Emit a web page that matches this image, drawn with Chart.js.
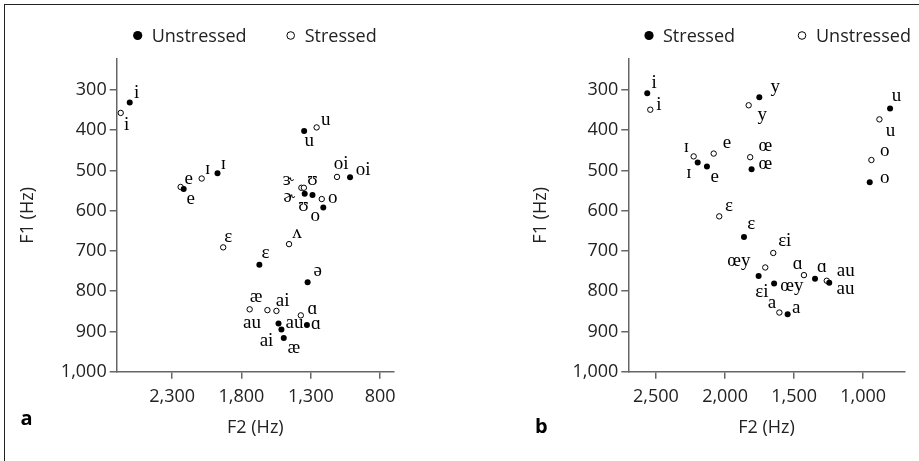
<!DOCTYPE html>
<html><head><meta charset="utf-8">
<script src="https://cdn.jsdelivr.net/npm/chart.js@4.4.1/dist/chart.umd.min.js"></script>
<style>
html,body{margin:0;padding:0;background:#fff;}
#wrap{position:relative;width:919px;height:461px;overflow:hidden;background:#fff;}
#frame{position:absolute;left:4px;top:4px;width:920px;height:470px;border-top:1.6px solid #222;border-left:1.6px solid #222;}
canvas{position:absolute;top:0;}
#ca{left:0;}
#cb{left:459px;}
</style></head>
<body>
<div id="wrap"><div id="frame"></div>
<canvas id="ca" width="459" height="461"></canvas>
<canvas id="cb" width="460" height="461"></canvas>
</div>
<script>
// ---------- Panel a data ----------
const aUnstressedVowels = ['i','e','ɪ','u','oi','ɚ','ʊ','o','ɛ','ə','ai','au','æ','ɑ'];
const aUnstressedF2 = [2606,2217,1973,1348,1017,1344,1288,1210,1671,1323,1533,1512,1495,1328];
const aUnstressedF1 = [331,546,507,402,517,558,561,592,734,778,880,895,916,884];
const aStressedVowels = ['i','e','ɪ','u','oi','ɝ','ʊ','o','ɛ','ʌ','æ','au','ai','ɑ'];
const aStressedF2 = [2671,2239,2087,1258,1111,1368,1350,1221,1932,1457,1741,1613,1548,1372];
const aStressedF1 = [357,541,520,393,516,543,543,571,691,683,845,847,849,860];
const aXTicks = [2300,1800,1300,800];

// ---------- Panel b data ----------
const bStressedVowels = ['i','y','u','o','ɪ','e','œ','ɛ','ɛi','œy','ɑ','au','a'];
const bStressedF2 = [2563,1752,806,953,2198,2131,1808,1863,1757,1645,1349,1246,1547];
const bStressedF1 = [308,318,346,529,480,490,497,665,762,781,769,779,857];
const bUnstressedVowels = ['i','y','u','o','ɪ','e','œ','ɛ','ɛi','œy','ɑ','au','a'];
const bUnstressedF2 = [2541,1829,883,941,2227,2082,1818,2042,1651,1709,1429,1264,1607];
const bUnstressedF1 = [349,338,373,474,465,458,467,614,705,741,760,774,853];
const bXTicks = [2500,2000,1500,1000];

const yTicks = [300,400,500,600,700,800,900,1000];

// ---------- label placement (pixel nudges of each vowel label from its point) ----------
const aUnstressedLabelNudge = [[7,-9],[7,11],[6,-9],[5,11],[13,-7],[-15.5,4],[-9,11.7],[-8,9.5],[6,-11],[10,-11],[-12,18],[13,-6],[10,11],[9,0]];
const aStressedLabelNudge = [[6,13],[8,-7],[6,-9],[9,-7],[4,-12],[-13,-7.5],[8.7,-7.5],[11,0],[5,-10],[8,-10],[6.3,-11.7],[-15.5,13.3],[6.3,-9],[11.7,-6]];
const bStressedLabelNudge = [[7,-10],[16,-10],[6.5,-11.6],[15,-3.7],[-8.7,11],[7.7,11.4],[13.8,-4.3],[7.3,-11.7],[3.3,16.3],[17.7,2.7],[7,-10.8],[16.2,6.5],[8.5,-5.7]];
const bUnstressedLabelNudge = [[8.7,-3.7],[13.6,10.7],[11,12],[13.4,-8.7],[-7.4,-8.6],[13.3,-10],[15.2,-10.3],[9.7,-9.6],[11.5,-11],[-26.3,-5.3],[-6.2,-10.8],[19,-9],[-7.5,-8.9]];

const SANS = '"Open Sans", "DejaVu Sans", sans-serif';
const SERIF = '"Liberation Serif", "DejaVu Serif", serif';
const TXT = '#222';
const AX = '#666';

function pts(xs, ys){ return xs.map((x,i)=>({x:x, y:ys[i]})); }

const vowelLabels = {
  id:'vowelLabels',
  afterDatasetsDraw(chart){
    const ctx = chart.ctx;
    ctx.save();
    ctx.font = '19px ' + SERIF;
    ctx.fillStyle = '#000';
    ctx.textAlign = 'center';
    ctx.textBaseline = 'alphabetic';
    chart.data.datasets.forEach((ds, di)=>{
      const meta = chart.getDatasetMeta(di);
      meta.data.forEach((el, i)=>{
        const n = ds.nudge[i];
        ctx.fillText(ds.vowels[i], el.x + n[0], el.y + n[1] + 4.3);
      });
    });
    ctx.restore();
  }
};

const customLegend = {
  id:'customLegend',
  afterDraw(chart, args, opts){
    const ctx = chart.ctx;
    ctx.save();
    ctx.font = '18px ' + SANS;
    ctx.textBaseline = 'middle';
    ctx.textAlign = 'left';
    chart.data.datasets.forEach((ds, di)=>{
      const x = opts.startX + di * opts.spacing;
      const y = opts.y;
      ctx.beginPath();
      if (ds.filled) {
        ctx.arc(x, y, 4.6, 0, Math.PI*2);
        ctx.fillStyle = '#000'; ctx.fill();
      } else {
        ctx.arc(x, y, 3.8, 0, Math.PI*2);
        ctx.fillStyle = '#fff'; ctx.fill();
        ctx.lineWidth = 1; ctx.strokeStyle = '#000'; ctx.stroke();
      }
      ctx.fillStyle = TXT;
      ctx.fillText(ds.label, x + 14, y + 1);
    });
    ctx.font = 'bold 20px ' + SANS;
    ctx.fillStyle = '#000';
    ctx.textBaseline = 'alphabetic';
    ctx.fillText(opts.panel, opts.panelX, opts.panelY);
    ctx.restore();
  }
};

function makeChart(canvasId, cfg){
  return new Chart(document.getElementById(canvasId), {
    type:'scatter',
    data:{ datasets:[
      { label:cfg.filled.label, data:pts(cfg.filled.f2, cfg.filled.f1), vowels:cfg.filled.vowels, nudge:cfg.filled.nudge, filled:true,
        pointRadius:3, pointBackgroundColor:'#000', pointBorderColor:'#000', pointBorderWidth:0 },
      { label:cfg.open.label, data:pts(cfg.open.f2, cfg.open.f1), vowels:cfg.open.vowels, nudge:cfg.open.nudge, filled:false,
        pointRadius:2.7, pointBackgroundColor:'#fff', pointBorderColor:'#000', pointBorderWidth:1 }
    ]},
    options:{
      responsive:false, animation:false, events:[],
      layout:{ padding:{ left:cfg.padLeft, right:cfg.padRight, top:59, bottom:22.7 } },
      plugins:{
        legend:{display:false}, tooltip:{enabled:false},
        customLegend:{ startX:cfg.legendX, spacing:153, y:35.5, panel:cfg.panel, panelX:cfg.panelX, panelY:cfg.panelY }
      },
      scales:{
        x:{
          type:'linear', reverse:true, min:700, max:2700,
          afterBuildTicks:(s)=>{ s.ticks = cfg.xTicks.map(v=>({value:v})); },
          afterFit:(s)=>{ s.height = 66.6; },
          grid:{ drawOnChartArea:false, drawTicks:true, tickLength:7, color:AX, lineWidth:1.5 },
          border:{ display:true, color:AX, width:1.5 },
          ticks:{ font:{family:SANS, size:18}, color:TXT, padding:7, maxRotation:0, autoSkip:false,
                  callback:(v)=>Number(v).toLocaleString('en-US') },
          title:{ display:true, text:'F2 (Hz)', font:{family:SANS, size:18}, color:TXT, padding:{top:0,bottom:0} }
        },
        y:{
          type:'linear', reverse:true, min:223, max:1000,
          afterBuildTicks:(s)=>{ s.ticks = yTicks.map(v=>({value:v})); },
          afterFit:(s)=>{ s.width = cfg.yWidth; },
          grid:{ drawOnChartArea:false, drawTicks:true, tickLength:7, color:AX, lineWidth:1.5 },
          border:{ display:true, color:AX, width:1.5 },
          ticks:{ font:{family:SANS, size:18}, color:TXT, padding:3, autoSkip:false,
                  callback:(v)=>Number(v).toLocaleString('en-US') },
          title:{ display:true, text:'F1 (Hz)', font:{family:SANS, size:18}, color:TXT, padding:{top:16.7,bottom:0} }
        }
      }
    },
    plugins:[vowelLabels, customLegend]
  });
}

makeChart('ca', {
  filled:{label:'Unstressed', f2:aUnstressedF2, f1:aUnstressedF1, vowels:aUnstressedVowels, nudge:aUnstressedLabelNudge},
  open:{label:'Stressed', f2:aStressedF2, f1:aStressedF1, vowels:aStressedVowels, nudge:aStressedLabelNudge},
  xTicks:aXTicks, padLeft:0, padRight:65, yWidth:116.7,
  legendX:137.7, panel:'a', panelX:20.5, panelY:425
});
makeChart('cb', {
  filled:{label:'Stressed', f2:bStressedF2, f1:bStressedF1, vowels:bStressedVowels, nudge:bStressedLabelNudge},
  open:{label:'Unstressed', f2:bUnstressedF2, f1:bUnstressedF1, vowels:bUnstressedVowels, nudge:bUnstressedLabelNudge},
  xTicks:bXTicks, padLeft:54, padRight:14.3, yWidth:115.3,
  legendX:190, panel:'b', panelX:76, panelY:433
});
</script>
</body></html>
